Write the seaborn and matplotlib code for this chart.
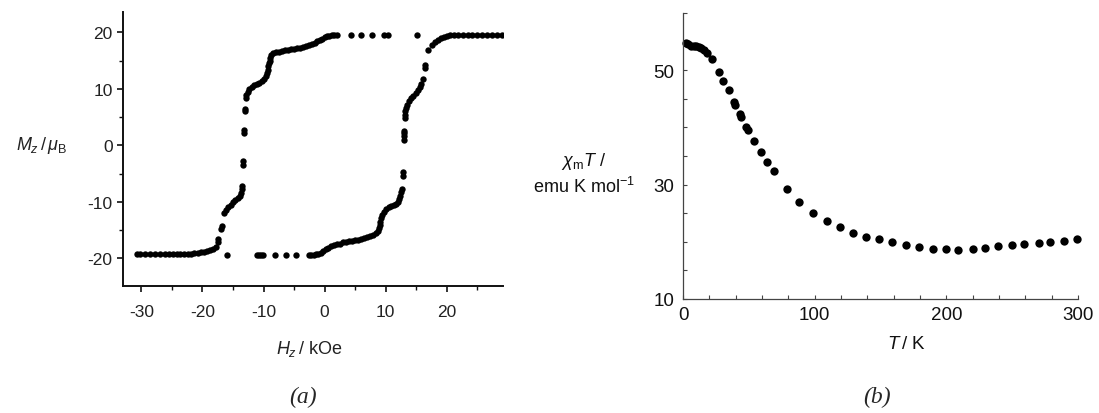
import numpy as np
import pandas as pd
import matplotlib
matplotlib.use("Agg")
import matplotlib.pyplot as plt
from matplotlib.ticker import MultipleLocator, FixedLocator
import seaborn as sns

# (a) петля гистерезиса: нисходящая и восходящая ветви
H_down = [15.2, 10.3, 9.8, 7.7, 6.0, 4.3,
          2.0, 1.6, 1.2, 0.8, 0.4, 0.0, -0.4, -0.8, -1.2, -1.6, -2.0,
          -2.5, -3.0, -3.5, -4.0, -4.5, -5.0, -5.5, -6.0, -6.5, -7.0, -7.5, -8.0,
          -8.4, -8.7, -8.9, -9.0, -9.1, -9.2, -9.3, -9.4, -9.6, -9.9,
          -10.3, -10.7, -11.1, -11.5, -11.9, -12.3, -12.6, -12.8, -12.9,
          -13.0, -13.05, -13.2, -13.2, -13.4, -13.4, -13.6, -13.6,
          -13.7, -13.9, -14.2, -14.6, -15.0, -15.4, -15.8, -16.2, -16.5,
          -16.8, -16.9, -17.4, -17.5,
          -17.8, -18.3, -18.8, -19.3, -19.8, -20.3, -20.8, -21.3, -21.8, -22.4, -23.0, -23.6,
          -24.2, -24.8, -25.5, -26.2, -27.0, -27.8, -28.6, -29.4, -30.2, -30.7]
M_down = [19.6, 19.5, 19.5, 19.5, 19.5, 19.5,
          19.6, 19.6, 19.5, 19.4, 19.3, 19.1, 18.9, 18.6, 18.4, 18.2, 18.0,
          17.8, 17.6, 17.4, 17.3, 17.2, 17.1, 17.0, 16.9, 16.8, 16.7, 16.6, 16.5,
          16.3, 16.0, 15.5, 15.0, 14.5, 14.0, 13.4, 12.8, 12.2, 11.7,
          11.3, 11.1, 10.9, 10.6, 10.3, 10.0, 9.5, 8.9, 8.3,
          6.4, 6.0, 2.8, 2.2, -2.8, -3.4, -7.2, -7.8,
          -8.4, -8.9, -9.3, -9.7, -10.1, -10.6, -11.0, -11.4, -11.9,
          -14.3, -14.8, -16.6, -17.1,
          -18.0, -18.3, -18.5, -18.7, -18.8, -18.9, -19.0, -19.1, -19.2, -19.25, -19.3, -19.3,
          -19.3, -19.3, -19.3, -19.3, -19.3, -19.3, -19.3, -19.3, -19.3, -19.3]

H_up = [-15.9, -11.1, -10.8, -10.4, -10.1, -8.2, -6.4, -4.7,
        -2.6, -2.2, -1.8, -1.4, -1.0, -0.6, -0.2, 0.2, 0.6, 1.0,
        1.5, 2.0, 2.5, 3.0, 3.5, 4.0, 4.5, 5.0, 5.5, 6.0, 6.5, 7.0, 7.5, 8.0,
        8.4, 8.7, 8.9, 9.0, 9.1, 9.2, 9.4, 9.7,
        10.1, 10.5, 10.9, 11.3, 11.7, 12.0, 12.2, 12.4, 12.5, 12.6,
        12.8, 12.8, 13.0, 13.0, 13.0, 13.0,
        13.1, 13.1, 13.2, 13.3, 13.5, 13.8, 14.1, 14.5, 14.9, 15.3, 15.6, 15.8,
        16.1, 16.4, 16.5, 17.0,
        17.5, 18.0, 18.5, 19.0, 19.5, 20.0, 20.6, 21.2, 21.8, 22.6, 23.4, 24.2,
        25.0, 25.8, 26.6, 27.4, 28.2, 29.0]
M_up = [-19.4, -19.35, -19.35, -19.35, -19.35, -19.4, -19.4, -19.4,
        -19.4, -19.4, -19.35, -19.3, -19.2, -19.0, -18.7, -18.4, -18.1, -17.9,
        -17.7, -17.5, -17.4, -17.2, -17.1, -17.0, -16.9, -16.8, -16.7, -16.6, -16.45, -16.3, -16.1, -15.9,
        -15.6, -15.2, -14.7, -14.1, -13.5, -12.9, -12.3, -11.8,
        -11.3, -11.0, -10.8, -10.6, -10.3, -10.0, -9.5, -8.9, -8.3, -7.7,
        -5.4, -4.8, 1.0, 1.6, 2.2, 2.6,
        4.8, 5.4, 6.0, 6.6, 7.2, 7.8, 8.3, 8.8, 9.3, 9.8, 10.3, 10.8,
        11.8, 13.6, 14.2, 16.8,
        17.8, 18.3, 18.7, 19.0, 19.2, 19.4, 19.5, 19.6, 19.6, 19.6, 19.6, 19.6,
        19.6, 19.6, 19.6, 19.6, 19.6, 19.6]

# (b) chi_m*T от температуры
T = [2, 4, 6, 8, 10, 12, 14, 16, 18,
     22, 27, 30.5, 35, 38.5, 39.5, 43, 44, 48, 49,
     54, 59, 64, 69, 79, 88, 99,
     109, 119, 129, 139, 149, 159, 169, 179, 190, 200,
     209, 220, 229, 239, 250, 259, 270, 279, 289, 299]
chiT = [54.8, 54.5, 54.3, 54.3, 54.2, 54.0, 53.8, 53.5, 53.0,
        51.9, 49.7, 48.1, 46.6, 44.4, 44.0, 42.4, 41.8, 40.1, 39.5,
        37.7, 35.7, 33.9, 32.3, 29.2, 26.9, 25.1,
        23.7, 22.6, 21.6, 20.9, 20.4, 19.9, 19.5, 19.1, 18.8, 18.7,
        18.6, 18.8, 19.0, 19.2, 19.4, 19.6, 19.8, 20.0, 20.2, 20.5]

loop = pd.concat([
    pd.DataFrame({"H": H_down, "M": M_down, "branch": "down"}),
    pd.DataFrame({"H": H_up, "M": M_up, "branch": "up"}),
])
chi = pd.DataFrame({"T": T, "chiT": chiT})

sns.set_style("ticks")
plt.rcParams["font.family"] = ["Liberation Sans", "DejaVu Sans"]
plt.rcParams["axes.unicode_minus"] = False
plt.rcParams["mathtext.fontset"] = "custom"
plt.rcParams["mathtext.rm"] = "Liberation Sans"
plt.rcParams["mathtext.it"] = "Liberation Sans:italic"
plt.rcParams["mathtext.bf"] = "Liberation Sans:bold"

fig = plt.figure(figsize=(10.99, 4.14), dpi=100)
ax1 = fig.add_axes([0.1119, 0.3068, 0.3458, 0.6618])
ax2 = fig.add_axes([0.6215, 0.2754, 0.3594, 0.6908])

# --- (a)
sns.scatterplot(data=loop, x="H", y="M", ax=ax1, color="black", s=21,
                linewidth=0, legend=False)
ax1.set_xlim(-33, 29.2)
ax1.set_ylim(-24.9, 23.6)
ax1.xaxis.set_major_locator(FixedLocator([-30, -20, -10, 0, 10, 20]))
ax1.xaxis.set_minor_locator(FixedLocator([-25, -15, -5, 5, 15, 25]))
ax1.yaxis.set_major_locator(FixedLocator([-20, -10, 0, 10, 20]))
ax1.yaxis.set_minor_locator(FixedLocator([-15, -5, 5, 15]))
for side in ["top", "right"]:
    ax1.spines[side].set_visible(False)
for side in ["left", "bottom"]:
    ax1.spines[side].set_linewidth(1.4)
    ax1.spines[side].set_color("#111111")
ax1.tick_params(which="major", direction="out", length=4.5, width=1.2,
                labelsize=12.5, labelcolor="#222222", color="#111111")
ax1.tick_params(which="minor", direction="out", length=3, width=1.0, color="#111111")
ax1.tick_params(axis="x", pad=8.5)
ax1.tick_params(axis="y", pad=3)
ax1.set_xlabel(r"$H_z\,$/ kOe", fontsize=13, color="#222222")
ax1.xaxis.set_label_coords(0.49, -0.19)
ax1.xaxis.label.set_va("top")
ax1.set_ylabel(r"$M_z\,/\,\mu_\mathrm{B}$", fontsize=13, rotation=0,
               color="#222222", ha="center", va="center")
ax1.yaxis.set_label_coords(-0.213, 0.515)

# --- (b)
sns.scatterplot(data=chi, x="T", y="chiT", ax=ax2, color="black", s=36,
                linewidth=0, legend=False, clip_on=False)
ax2.set_xlim(0, 300)
ax2.set_ylim(10, 60)
ax2.xaxis.set_major_locator(MultipleLocator(100))
ax2.xaxis.set_minor_locator(MultipleLocator(20))
ax2.yaxis.set_major_locator(FixedLocator([10, 30, 50]))
ax2.yaxis.set_minor_locator(MultipleLocator(5))
for side in ["top", "right"]:
    ax2.spines[side].set_visible(False)
for side in ["left", "bottom"]:
    ax2.spines[side].set_linewidth(0.9)
    ax2.spines[side].set_color("#444444")
ax2.tick_params(which="both", direction="in", length=3, width=0.8,
                labelsize=13.5, color="#444444", labelcolor="#111111")
ax2.tick_params(axis="x", pad=5)
ax2.tick_params(axis="y", pad=6)
ax2.set_xlabel(r"$T\,$/ K", fontsize=13.5, color="#111111")
ax2.xaxis.set_label_coords(0.565, -0.125)
ax2.xaxis.label.set_va("top")
ax2.set_ylabel("$\\chi_\\mathrm{m}T$ /\nemu K mol$^{-1}$", fontsize=13, rotation=0,
               color="#111111", ha="center", va="center", linespacing=1.3)
ax2.yaxis.set_label_coords(-0.251, 0.442)

fig.text(303 / 1099, 1 - 397 / 414, "(a)", fontsize=17, style="italic",
         family="Liberation Serif", ha="center", va="center")
fig.text(877 / 1099, 1 - 397 / 414, "(b)", fontsize=17, style="italic",
         family="Liberation Serif", ha="center", va="center")

fig.savefig("out.png", dpi=100)
